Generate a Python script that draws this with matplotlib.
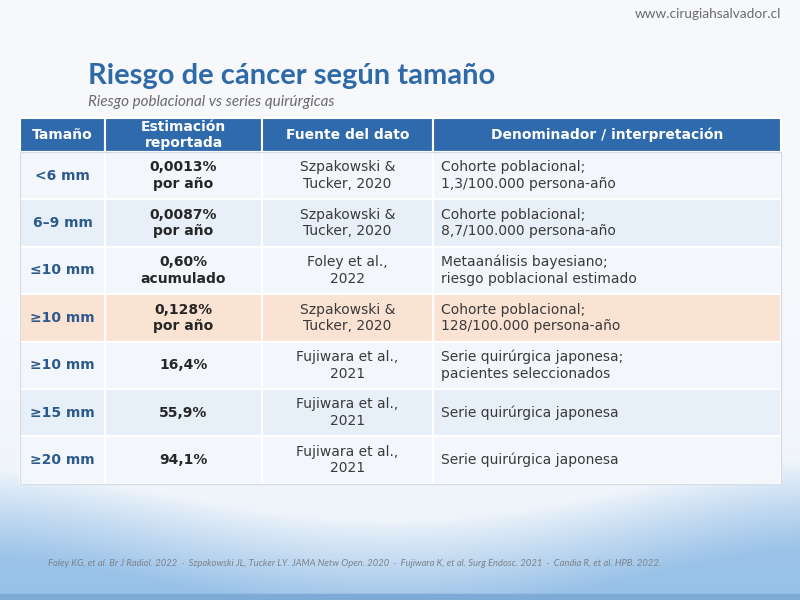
import numpy as np
import matplotlib
matplotlib.use("Agg")
import matplotlib.pyplot as plt
from matplotlib.patches import Rectangle

# ---------------- data ----------------
headers = ["Tamaño", "Estimación\nreportada", "Fuente del dato", "Denominador / interpretación"]
sizes = ["<6 mm", "6–9 mm", "≤10 mm", "≥10 mm", "≥10 mm", "≥15 mm", "≥20 mm"]
estimates = ["0,0013%\npor año", "0,0087%\npor año", "0,60%\nacumulado", "0,128%\npor año",
             "16,4%", "55,9%", "94,1%"]
sources = ["Szpakowski &\nTucker, 2020", "Szpakowski &\nTucker, 2020", "Foley et al.,\n2022",
           "Szpakowski &\nTucker, 2020", "Fujiwara et al.,\n2021", "Fujiwara et al.,\n2021",
           "Fujiwara et al.,\n2021"]
interpretation = ["Cohorte poblacional;\n1,3/100.000 persona-año",
                  "Cohorte poblacional;\n8,7/100.000 persona-año",
                  "Metaanálisis bayesiano;\nriesgo poblacional estimado",
                  "Cohorte poblacional;\n128/100.000 persona-año",
                  "Serie quirúrgica japonesa;\npacientes seleccionados",
                  "Serie quirúrgica japonesa",
                  "Serie quirúrgica japonesa"]
highlight_row = 3
title = "Riesgo de cáncer según tamaño"
subtitle = "Riesgo poblacional vs series quirúrgicas"
url = "www.cirugiahsalvador.cl"
footer = ("Foley KG, et al. Br J Radiol. 2022  ·  Szpakowski JL, Tucker LY. JAMA Netw Open. 2020  ·  "
          "Fujiwara K, et al. Surg Endosc. 2021  ·  Candia R, et al. HPB. 2022.")

# ---------------- layout ----------------
W, H = 800, 600
col_edges = [20, 105, 262, 433, 781]
header_top, header_bot = 118, 152
row_h = 47.4

fig = plt.figure(figsize=(8, 6), dpi=100)
ax = fig.add_axes([0, 0, 1, 1])
ax.set_xlim(0, W)
ax.set_ylim(H, 0)
ax.axis("off")

# background gradient with a wavy blue lower band
ys = np.linspace(0, H, 600)[:, None]
xs = np.linspace(0, W, 800)[None, :]
top = np.array([0.965, 0.975, 0.99])
blue = np.array([0.60, 0.76, 0.91])
boundary = 470 + 55 * np.sin(np.pi * xs / W) ** 1.5 - 10 * (xs / W)
t = np.clip((ys - boundary) / 90, 0, 1) ** 0.9
t = 0.10 * np.clip((ys - 300) / 300, 0, 1) + 0.90 * t
img = top[None, None, :] * (1 - t[..., None]) + blue[None, None, :] * t[..., None]
ax.imshow(img, extent=[0, W, H, 0], aspect="auto", zorder=0)
ax.add_patch(Rectangle((0, 594), W, 6, color="#7eaad6", zorder=1))

# title & texts
ax.text(88, 76, title, fontsize=21, fontweight="bold", color="#2f6aa8",
        family="Lato", va="center", ha="left", zorder=3)
ax.text(88, 102, subtitle, fontsize=11, style="italic", color="#6b6b6b",
        family="Lato", va="center", ha="left", zorder=3)
ax.text(781, 14, url, fontsize=9.8, color="#6b6b6b", family="Lato",
        va="center", ha="right", zorder=3)
ax.text(48, 563, footer, fontsize=6.75, style="italic", color="#7b828c",
        family="Lato", va="center", ha="left", zorder=3)

# header
hdr_color = "#2f6aad"
for j, h in enumerate(headers):
    x0, x1 = col_edges[j], col_edges[j + 1]
    ax.add_patch(Rectangle((x0, header_top), x1 - x0, header_bot - header_top,
                           facecolor=hdr_color, edgecolor="white", lw=1.5, zorder=2))
    ax.text((x0 + x1) / 2, (header_top + header_bot) / 2, h, fontsize=10,
            fontweight="bold", color="white", family="DejaVu Sans",
            ha="center", va="center", linespacing=1.1, zorder=3)

# body rows
row_colors = ["#f3f7fc", "#e7eff8"]
ls = 1.25
for i in range(len(sizes)):
    y0 = header_bot + i * row_h
    yc = y0 + row_h / 2
    fc = "#fbe3d4" if i == highlight_row else row_colors[i % 2]
    for j in range(4):
        x0, x1 = col_edges[j], col_edges[j + 1]
        ax.add_patch(Rectangle((x0, y0), x1 - x0, row_h, facecolor=fc,
                               edgecolor="white", lw=1.5, zorder=2))
    ax.text((col_edges[0] + col_edges[1]) / 2, yc, sizes[i], fontsize=10,
            fontweight="bold", color="#2c5a8c", ha="center", va="center", zorder=3)
    ax.text((col_edges[1] + col_edges[2]) / 2, yc, estimates[i], fontsize=10,
            fontweight="bold", color="#262626", ha="center", va="center",
            linespacing=ls, zorder=3)
    ax.text((col_edges[2] + col_edges[3]) / 2, yc, sources[i], fontsize=10,
            color="#3a3a3a", ha="center", va="center", linespacing=ls, zorder=3)
    ax.text(col_edges[3] + 8, yc, interpretation[i], fontsize=10,
            color="#3a3a3a", ha="left", va="center", linespacing=ls, zorder=3)

# outer table border
tb = header_bot + len(sizes) * row_h
ax.add_patch(Rectangle((col_edges[0], header_bot), col_edges[-1] - col_edges[0],
                       tb - header_bot, fill=False, edgecolor="#d5dde6", lw=1, zorder=4))

fig.savefig("out.png", dpi=100)
